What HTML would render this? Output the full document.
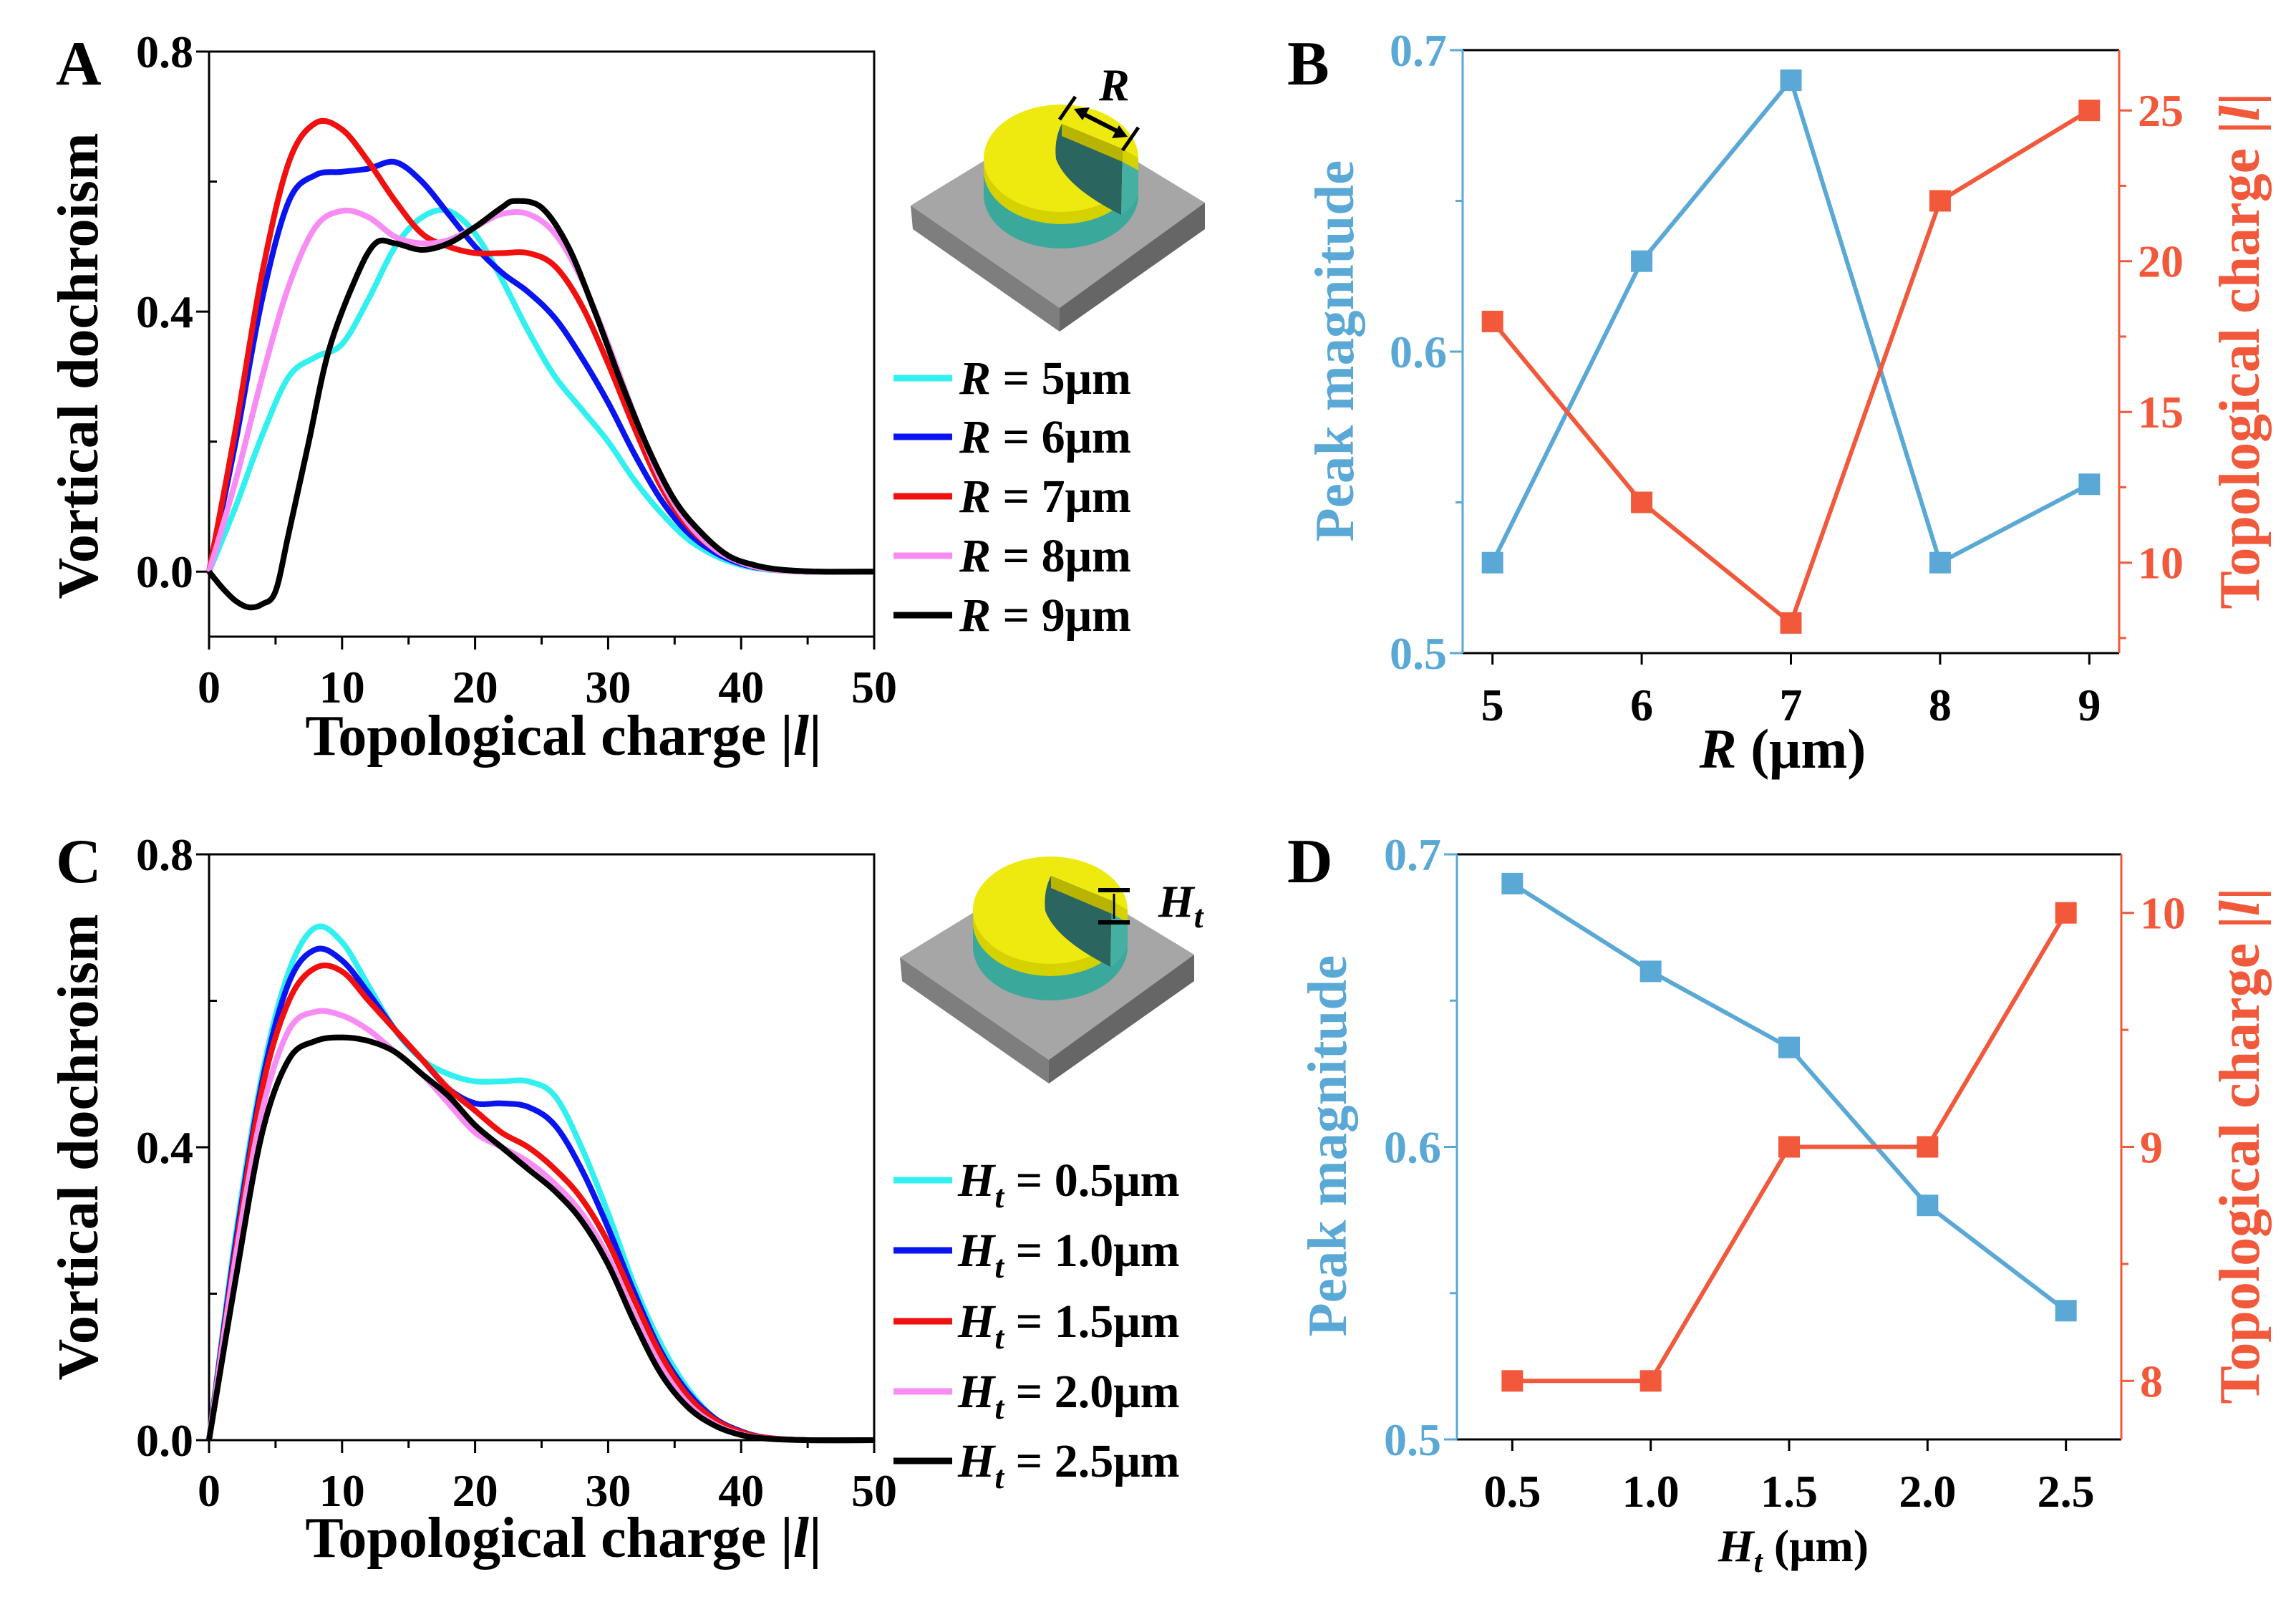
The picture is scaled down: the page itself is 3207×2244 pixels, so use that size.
<!DOCTYPE html>
<html><head><meta charset="utf-8"><style>
html,body{margin:0;padding:0;background:#fff}
svg{display:block}
text{font-family:"Liberation Serif","DejaVu Serif",serif;font-weight:bold}
</style></head><body>
<svg id="fig" width="3207" height="2244" viewBox="0 0 3207 2244" xmlns="http://www.w3.org/2000/svg">
<rect width="3207" height="2244" fill="#fff"/>
<g id="layer"></g>
</svg>
<script>
// ---------- Panel A data ----------
const aX = [0,2,4,6,8,10,12,14,16,18,20,22,24,26,28,30,32,34,36,38,40,42,45,50];
const aR5 = [0,0.10,0.21,0.30,0.33,0.35,0.42,0.50,0.545,0.555,0.52,0.45,0.37,0.30,0.25,0.20,0.14,0.09,0.05,0.025,0.01,0.003,0,0];
const aR6 = [0,0.20,0.42,0.57,0.61,0.615,0.62,0.63,0.60,0.55,0.50,0.46,0.43,0.39,0.33,0.26,0.18,0.11,0.06,0.03,0.012,0.004,0,0];
const aR7 = [0,0.22,0.46,0.63,0.69,0.68,0.63,0.57,0.52,0.50,0.49,0.49,0.49,0.47,0.41,0.32,0.22,0.13,0.07,0.035,0.014,0.004,0,0];
const aR8 = [0,0.14,0.30,0.44,0.53,0.555,0.545,0.515,0.505,0.51,0.53,0.55,0.55,0.52,0.45,0.35,0.24,0.14,0.075,0.035,0.014,0.004,0,0];
const aX9 = [0,1,2,3,4,5,6,7.5,9,11,12.5,14,16,18,20,22,23,25,27,29,31,33,35,37,39,41,43,46,50];
const aR9 = [0,-0.025,-0.045,-0.055,-0.05,-0.03,0.06,0.20,0.34,0.45,0.505,0.505,0.495,0.505,0.53,0.56,0.57,0.56,0.50,0.40,0.29,0.19,0.11,0.06,0.025,0.01,0.003,0,0];
const aLegend = ["R = 5μm","R = 6μm","R = 7μm","R = 8μm","R = 9μm"];
// ---------- Panel C data ----------
const cX = [0,2,4,6,8,10,12,14,16,18,20,22,24,26,28,30,32,34,36,38,40,42,45,50];
const cH05 = [0,0.28,0.50,0.64,0.70,0.68,0.62,0.56,0.52,0.50,0.49,0.49,0.49,0.47,0.40,0.31,0.21,0.13,0.07,0.03,0.012,0.003,0,0];
const cH10 = [0,0.27,0.49,0.625,0.67,0.655,0.61,0.56,0.52,0.48,0.46,0.46,0.455,0.43,0.37,0.29,0.20,0.12,0.065,0.03,0.012,0.003,0,0];
const cH15 = [0,0.26,0.48,0.60,0.645,0.64,0.60,0.56,0.52,0.48,0.45,0.42,0.40,0.37,0.33,0.27,0.19,0.115,0.06,0.028,0.011,0.003,0,0];
const cH20 = [0,0.25,0.45,0.56,0.585,0.58,0.56,0.53,0.50,0.46,0.42,0.40,0.38,0.35,0.31,0.25,0.17,0.10,0.05,0.022,0.008,0.002,0,0];
const cH25 = [0,0.22,0.42,0.52,0.545,0.55,0.545,0.53,0.50,0.47,0.43,0.40,0.37,0.34,0.30,0.24,0.16,0.09,0.045,0.02,0.007,0.002,0,0];
const cLegend = ["0.5μm","1.0μm","1.5μm","2.0μm","2.5μm"];
const curveTicksX = ["0","10","20","30","40","50"];
const curveTicksY = ["0.0","0.4","0.8"];
// ---------- Panel B data ----------
const bR = [5,6,7,8,9];
const bPeak = [0.53,0.63,0.69,0.53,0.556];
const bCharge = [18,12,8,22,25];
const bTicksX = ["5","6","7","8","9"];
const bTicksL = ["0.5","0.6","0.7"];
const bTicksR = ["10","15","20","25"];
// ---------- Panel D data ----------
const dH = [0.5,1.0,1.5,2.0,2.5];
const dPeak = [0.69,0.66,0.634,0.58,0.544];
const dCharge = [8,8,9,9,10];
const dTicksX = ["0.5","1.0","1.5","2.0","2.5"];
const dTicksL = ["0.5","0.6","0.7"];
const dTicksR = ["8","9","10"];

const NS="http://www.w3.org/2000/svg";
const layer=document.getElementById('layer');
function mk(tag,attrs,parent){const e=document.createElementNS(NS,tag);for(const k in attrs)e.setAttribute(k,attrs[k]);(parent||layer).appendChild(e);return e;}
function lin(d0,d1,r0,r1){return v=>r0+(v-d0)/(d1-d0)*(r1-r0);}
function smooth(pts){let d="M"+pts[0][0]+","+pts[0][1];for(let i=0;i<pts.length-1;i++){const p0=pts[Math.max(0,i-1)],p1=pts[i],p2=pts[i+1],p3=pts[Math.min(pts.length-1,i+2)];const c1=[p1[0]+(p2[0]-p0[0])/6,p1[1]+(p2[1]-p0[1])/6],c2=[p2[0]-(p3[0]-p1[0])/6,p2[1]-(p3[1]-p1[1])/6];d+=" C"+c1[0].toFixed(1)+","+c1[1].toFixed(1)+" "+c2[0].toFixed(1)+","+c2[1].toFixed(1)+" "+p2[0].toFixed(1)+","+p2[1].toFixed(1);}return d;}
function txt(s,x,y,opt){const t=mk('text',Object.assign({x:x,y:y,'font-size':64,'text-anchor':'middle',fill:'#000'},opt||{}));t.textContent=s;return t;}

// ---------- curve panels ----------
function curvePanel(id,L,R,T,B,ymin,ymax,yMinor,series,colors,names){
  const g=mk('g',{});
  
  
  const sx=lin(0,50,L,R), sy=lin(ymin,ymax,B,T);
  const frame=mk('rect',{x:L,y:T,width:R-L,height:B-T,fill:'none',stroke:'#000','stroke-width':3},g);
  
  
  for(let v=0;v<=50;v+=5){const x=sx(v);mk('line',{x1:x,x2:x,y1:B,y2:B+(v%10===0?18:11),stroke:'#000','stroke-width':3},g);}
  curveTicksX.forEach(s=>{const t=txt(s,sx(+s),B+92);g.appendChild(t);});
  curveTicksY.forEach(s=>{const y=sy(+s);mk('line',{x1:L-18,x2:L,y1:y,y2:y,stroke:'#000','stroke-width':3},g);const t=txt(s,L-22,y+22,{'text-anchor':'end'});g.appendChild(t);});
  yMinor.forEach(v=>{const y=sy(v);mk('line',{x1:L,x2:L+11,y1:y,y2:y,stroke:'#000','stroke-width':3},g);});
  series.forEach((s,i)=>{const pts=s[0].map((x,j)=>[sx(x),sy(s[1][j])]);const p=mk('path',{d:smooth(pts),fill:'none',stroke:colors[i],'stroke-width':8,'stroke-linejoin':'round'},g);});
}
const colors5=["#33f0f0","#0a14f0","#f01010","#f88cf5","#000000"];
curvePanel('panel-a',292,1221,72,889,-0.1,0.8,[0.2,0.6],[[aX,aR5],[aX,aR6],[aX,aR7],[aX,aR8],[aX9,aR9]],colors5,['r5','r6','r7','r8','r9']);
curvePanel('panel-c',292,1221,1193,2011,0,0.8,[0.2,0.6],[[cX,cH05],[cX,cH10],[cX,cH15],[cX,cH20],[cX,cH25]],colors5,['ht05','ht10','ht15','ht20','ht25']);

// axis titles A/C
[[787,1054,'panel-a'],[787,2174,'panel-c']].forEach(a=>{const t=txt('',a[0],a[1],{'font-size':80});t.innerHTML='Topological charge |<tspan font-style="italic">l</tspan>|';});
[[136,511,'panel-a'],[136,1602,'panel-c']].forEach(a=>{const t=txt('Vortical dochroism',a[0],a[1],{'font-size':80,transform:'rotate(-90 '+a[0]+' '+a[1]+')'});});

// legends
const legAY=[528,610,693,776,859];
aLegend.forEach((s,i)=>{const g=mk('g',{});mk('line',{x1:1248,x2:1330,y1:legAY[i],y2:legAY[i],stroke:colors5[i],'stroke-width':9},g);const t=txt('',1340,legAY[i]+22,{'text-anchor':'start','font-size':66});t.innerHTML='<tspan font-style="italic">R</tspan>'+s.slice(1);g.appendChild(t);});
const legCY=[1648,1746,1845,1943,2040];
cLegend.forEach((s,i)=>{const g=mk('g',{});mk('line',{x1:1248,x2:1330,y1:legCY[i],y2:legCY[i],stroke:colors5[i],'stroke-width':9},g);const t=txt('',1338,legCY[i]+22,{'text-anchor':'start','font-size':66});t.innerHTML='<tspan font-style="italic">H</tspan><tspan font-style="italic" font-size="46" dy="16">t</tspan><tspan dy="-16"> = '+s+'</tspan>';g.appendChild(t);});

// ---------- dual-axis panels ----------
const BLUE="#5aa8d6", ORANGE="#f2583a";
function dualPanel(id,L,R,T,B,xmin,xmax,xs,xt,lmin,lmax,lt,lminor,rmin,rmax,rt,rminor,peak,charge){
  const g=mk('g',{});
  
  
  const sx=lin(xmin,xmax,L,R), sl=lin(lmin,lmax,B,T), sr=lin(rmin,rmax,B,T);
  mk('line',{x1:L,x2:R,y1:T,y2:T,stroke:'#000','stroke-width':3},g);
  mk('line',{x1:L,x2:R,y1:B,y2:B,stroke:'#000','stroke-width':3},g);
  const la=mk('line',{x1:L,x2:L,y1:T,y2:B,stroke:BLUE,'stroke-width':3},g);
  const ra=mk('line',{x1:R,x2:R,y1:T,y2:B,stroke:ORANGE,'stroke-width':3},g);
  xt.forEach(s=>{const x=sx(+s);mk('line',{x1:x,x2:x,y1:B,y2:B+16,stroke:'#000','stroke-width':3},g);const t=txt(s,x,B+94,{'font-size':64});g.appendChild(t);});
  lt.forEach(s=>{const y=sl(+s);mk('line',{x1:L-18,x2:L,y1:y,y2:y,stroke:BLUE,'stroke-width':3},g);const t=txt(s,L-22,y+22,{'text-anchor':'end',fill:BLUE});g.appendChild(t);});
  lminor.forEach(v=>{const y=sl(v);mk('line',{x1:L-10,x2:L,y1:y,y2:y,stroke:BLUE,'stroke-width':3},g);});
  rt.forEach(s=>{const y=sr(+s);mk('line',{x1:R,x2:R+18,y1:y,y2:y,stroke:ORANGE,'stroke-width':3},g);const t=txt(s,R+26,y+22,{'text-anchor':'start',fill:ORANGE});g.appendChild(t);});
  rminor.forEach(v=>{const y=sr(v);mk('line',{x1:R,x2:R+10,y1:y,y2:y,stroke:ORANGE,'stroke-width':3},g);});
  const pp=xs.map((x,i)=>sx(x)+','+sl(peak[i])).join(' ');
  const pl=mk('polyline',{points:pp,fill:'none',stroke:BLUE,'stroke-width':6},g);
  const cp=xs.map((x,i)=>sx(x)+','+sr(charge[i])).join(' ');
  const cl=mk('polyline',{points:cp,fill:'none',stroke:ORANGE,'stroke-width':6},g);
  xs.forEach((x,i)=>{const m=mk('rect',{x:sx(x)-15,y:sl(peak[i])-15,width:30,height:30,fill:BLUE},g);
    const n=mk('rect',{x:sx(x)-15,y:sr(charge[i])-15,width:30,height:30,fill:ORANGE},g);});
}
dualPanel('panel-b',2043,2960,70,912,4.8,9.2,bR,bTicksX,0.5,0.7,bTicksL,[0.55,0.65],7,27,bTicksR,[7.5,12.5,17.5,22.5],bPeak,bCharge);
dualPanel('panel-d',2035,2963,1193,2010,0.3,2.7,dH,dTicksX,0.5,0.7,dTicksL,[0.55,0.65],7.75,10.25,dTicksR,[8.5,9.5],dPeak,dCharge);

// titles B/D
let t;
t=txt('Peak magnitude',1890,490,{'font-size':77,fill:BLUE,transform:'rotate(-90 1890 490)'});
t=txt('',3155,490,{'font-size':80,fill:ORANGE,transform:'rotate(-90 3155 490)'});t.innerHTML='Topological charge |<tspan font-style="italic">l</tspan>|';
t=txt('',2490,1072,{'font-size':78});t.innerHTML='<tspan font-style="italic">R</tspan> (μm)';
t=txt('Peak magnitude',1880,1600,{'font-size':77,fill:BLUE,transform:'rotate(-90 1880 1600)'});
t=txt('',3155,1600,{'font-size':80,fill:ORANGE,transform:'rotate(-90 3155 1600)'});t.innerHTML='Topological charge |<tspan font-style="italic">l</tspan>|';
t=txt('',2505,2180,{'font-size':64});t.innerHTML='<tspan font-style="italic">H</tspan><tspan font-style="italic" font-size="44" dy="15">t</tspan><tspan dy="-15"> (μm)</tspan>';

// panel letters
[['A',78,118],['B',1798,118],['C',78,1232],['D',1798,1232]].forEach(a=>{const l=txt(a[0],a[1],a[2],{'font-size':88,'text-anchor':'start'});});

// ---------- insets ----------
function inset(id,dx,dy){
  const g=mk('g',{transform:'translate('+dx+','+dy+')'});
  
  
  // slab
  mk('polygon',{points:'1272,287 1480,160 1683,283 1480,430',fill:'#a6a6a6'},g);
  mk('polygon',{points:'1272,287 1480,430 1480,463 1275,320',fill:'#7e7e7e'},g);
  mk('polygon',{points:'1480,430 1683,283 1683,320 1480,463',fill:'#666'},g);
  // cylinder body (teal) and yellow band
  mk('path',{d:'M1374,221 L1374,272 A108,75 0 0 0 1590,272 L1590,221 Z',fill:'#3aa89a'},g);
  mk('path',{d:'M1374,221 L1374,238 A108,75 0 0 0 1590,238 L1590,221 Z',fill:'#d6d200'},g);
  // yellow top
  mk('ellipse',{cx:1482,cy:221,rx:108,ry:75,fill:'#eeea10'},g);
  // notch: dark inner wall
  mk('path',{d:'M1483,173 L1568,208 L1566,300 Q1490,262 1475,222 Q1472,195 1483,173 Z',fill:'#2a6560'},g);
  // yellow strip on cut face
  mk('polygon',{points:'1483,173 1568,208 1568,226 1483,190',fill:'#b8b400'},g);
  // outer teal sliver right of cut
  mk('path',{d:'M1568,208 L1590,221 L1590,272 Q1582,290 1566,300 Z',fill:'#45b0a2'},g);
  mk('polygon',{points:'1568,208 1590,221 1590,238 1568,226',fill:'#d6d200'},g);
  return g;
}
inset('inset-pillar-r',0,0);
inset('inset-pillar-ht',-15,1050);
// R annotation
const ra=mk('g',{});
mk('line',{x1:1480,y1:167,x2:1502,y2:135,stroke:'#000','stroke-width':5},ra);
mk('line',{x1:1568,y1:210,x2:1590,y2:178,stroke:'#000','stroke-width':5},ra);
mk('line',{x1:1505,y1:155,x2:1570,y2:188,stroke:'#000','stroke-width':6},ra);
mk('polygon',{points:'1500,152 1522,150 1512,168',fill:'#000'},ra);
mk('polygon',{points:'1575,191 1553,193 1563,175',fill:'#000'},ra);
t=txt('R',1535,140,{'font-size':64,'font-weight':'normal','font-style':'italic','text-anchor':'start'});ra.appendChild(t);
// Ht annotation
const ha=mk('g',{});
mk('line',{x1:1534,y1:1243,x2:1578,y2:1243,stroke:'#000','stroke-width':6},ha);
mk('line',{x1:1534,y1:1288,x2:1578,y2:1288,stroke:'#000','stroke-width':6},ha);
mk('line',{x1:1556,y1:1248,x2:1556,y2:1283,stroke:'#000','stroke-width':3},ha);
t=txt('',1618,1280,{'font-size':64,'font-weight':'normal','font-style':'italic','text-anchor':'start'});t.innerHTML='H<tspan font-size="46" dy="15">t</tspan>';ha.appendChild(t);
</script>
</body></html>
